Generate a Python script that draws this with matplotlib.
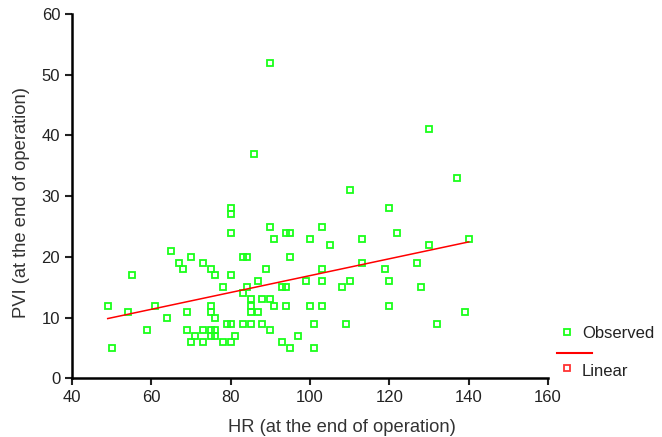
import numpy as np
import matplotlib
matplotlib.use('Agg')
import matplotlib.pyplot as plt
from matplotlib.lines import Line2D

plt.rcParams['font.family'] = ['Liberation Sans', 'DejaVu Sans']

# HR / PVI pairs
hr = [49, 50, 54, 55, 59, 61, 64, 65, 67, 68, 69, 69, 70, 70, 71, 73, 73, 73,
      75, 75, 75, 75, 75, 76, 76, 76, 76, 78, 78, 79, 80, 80, 80, 80, 80, 80,
      81, 83, 84, 83, 83, 84, 85, 85, 85, 85, 87, 87, 88, 88, 89, 90, 90, 90,
      91, 91, 90, 130, 86, 137, 110, 120, 94, 95, 103, 122, 100, 105, 113, 130,
      140, 95, 113, 127, 103, 119, 99, 103, 110, 120, 93, 94, 108, 128, 94,
      100, 103, 120, 139, 101, 109, 132, 97, 93, 95, 101]
pvi = [12, 5, 11, 17, 8, 12, 10, 21, 19, 18, 11, 8, 20, 6, 7, 19, 8, 6,
       18, 12, 11, 8, 7, 17, 10, 8, 7, 15, 6, 9, 28, 27, 24, 17, 9, 6,
       7, 20, 20, 14, 9, 15, 13, 12, 11, 9, 16, 11, 13, 9, 18, 25, 13, 8,
       23, 12, 52, 41, 37, 33, 31, 28, 24, 24, 25, 24, 23, 22, 23, 22,
       23, 20, 19, 19, 18, 18, 16, 16, 16, 16, 15, 15, 15, 15, 12,
       12, 12, 12, 11, 9, 9, 9, 7, 6, 5, 5]

x_ticks = [40, 60, 80, 100, 120, 140, 160]
y_ticks = [0, 10, 20, 30, 40, 50, 60]

hr = np.array(hr)
pvi = np.array(pvi)
slope, icept = np.polyfit(hr, pvi, 1)
xl = np.array([hr.min(), hr.max()])

fig = plt.figure(figsize=(6.62, 4.37), dpi=100)
ax = fig.add_axes([0.1088, 0.134, 0.719, 0.834])

green = '#1aff1a'
ax.plot(hr, pvi, 's', mfc='none', mec=green, ms=5, mew=1.3, ls='none')
ax.plot(xl, icept + slope * xl, color='red', lw=1.1)

ax.set_xlim(40, 160)
ax.set_ylim(0, 60)
ax.set_xticks(x_ticks)
ax.set_yticks(y_ticks)
ax.spines['top'].set_visible(False)
ax.spines['right'].set_visible(False)
ax.spines['left'].set_linewidth(1.8)
ax.spines['bottom'].set_linewidth(1.8)
ax.tick_params(direction='out', length=5, width=1.5, labelsize=12, colors='#222222')

# axis titles are a bit off-centre in the original
fig.text(341.7 / 662, 1 - 427 / 437, 'HR (at the end of operation)', ha='center', va='center',
         fontsize=13.2, color='#333333')
fig.text(22 / 662, 1 - 202.5 / 437, 'PVI (at the end of operation)', ha='center', va='center',
         rotation=90, fontsize=13.2, color='#333333')

# SPSS-style legend to the right
fig.add_artist(Line2D([567 / 662], [1 - 332 / 437], marker='s', mfc='none', mec=green,
                      ms=5, mew=1.3, transform=fig.transFigure))
fig.text(582 / 662, 1 - 334 / 437, 'Observed', va='center', fontsize=12, color='#222222')
fig.add_artist(Line2D([557 / 662, 592 / 662], [1 - 352.5 / 437] * 2, color='red', lw=1.5,
                      transform=fig.transFigure))
fig.add_artist(Line2D([567 / 662], [1 - 368 / 437], marker='s', mfc='none', mec='#ff3333',
                      ms=5, mew=1.3, transform=fig.transFigure))
fig.text(582 / 662, 1 - 371 / 437, 'Linear', va='center', fontsize=12, color='#222222')

fig.savefig('out.png', dpi=100)
